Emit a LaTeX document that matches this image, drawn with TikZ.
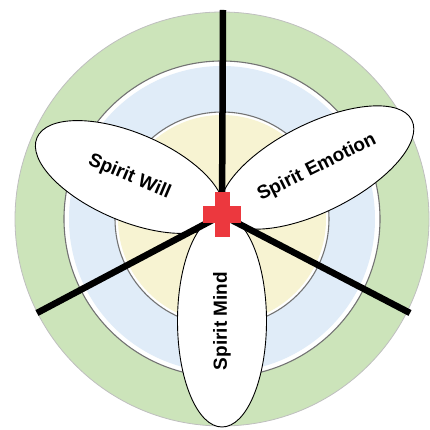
\documentclass[tikz,border=0pt]{standalone}
\usepackage{fontspec}
\setmainfont{Liberation Sans}
\usetikzlibrary{calc, shapes.geometric}

\definecolor{ringgreen}{RGB}{204,228,186}
\definecolor{ringblue}{RGB}{224,236,248}
\definecolor{ringyellow}{RGB}{247,243,210}
\definecolor{crossred}{RGB}{236,56,62}

\begin{document}
\begin{tikzpicture}[
    x=1pt, y=1pt,
    ringedge/.style={draw=black!55, line width=1.1pt},
    spoke/.style={line width=6.5pt, color=black},
    petal/.style={ellipse, draw=black, line width=0.9pt, fill=white, inner sep=0pt,
                  minimum height=88pt, font=\bfseries\fontsize{19}{19}\selectfont}
]
    \useasboundingbox (-222,-211) rectangle (207,219);

    % Rings
    \fill[ringgreen] (0,0) circle (207);
    \draw[black!25, line width=0.8pt] (0,0) circle (207);
    \fill[white, ringedge] (0,0) circle (158);
    \fill[ringblue] (0,0) circle (153);
    \fill[white, ringedge] (0,0) circle (107);
    \fill[ringyellow] (0,0) circle (104);

    % Hub and spoke ends
    \coordinate (hub) at (0,4);
    \coordinate (topEnd) at (1,209);
    \coordinate (leftEnd) at (-185,-94);
    \coordinate (rightEnd) at (188,-94);

    % Petals
    \node[petal, minimum width=201pt, rotate=-23] (will) at (-92.5,42) {Spirit Will};
    \node[petal, minimum width=212pt, rotate=26.6] (emotion) at (95,51.5) {Spirit Emotion};
    \node[petal, minimum width=212pt, minimum height=89pt, rotate=90] (mind) at (0,-102) {Spirit Mind};

    % Spokes
    \draw[spoke] (hub) -- (topEnd);
    \draw[spoke] (hub) -- (leftEnd);
    \draw[spoke] (hub) -- (rightEnd);

    % Red cross
    \fill[crossred] ($(hub)+(-7.5,-22)$) rectangle ($(hub)+(7.5,23)$);
    \fill[crossred] ($(hub)+(-19.5,-8)$) rectangle ($(hub)+(18.5,9)$);

\end{tikzpicture}
\end{document}
